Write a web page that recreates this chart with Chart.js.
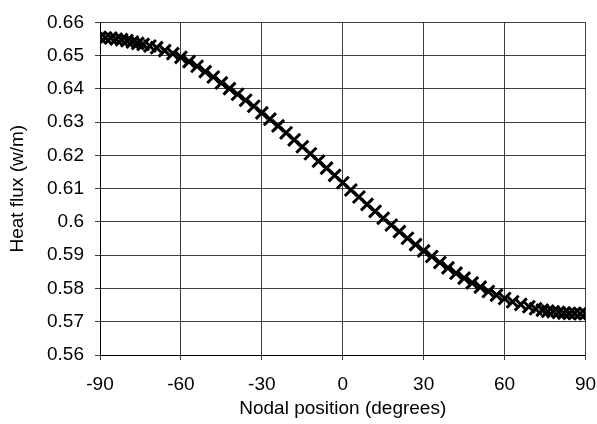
<!DOCTYPE html>
<html>
<head>
<meta charset="utf-8">
<script src="https://cdn.jsdelivr.net/npm/chart.js@4/dist/chart.umd.min.js"></script>
<style>
  body { margin: 0; background: #fff; }
</style>
</head>
<body>
<canvas id="fluxchart" width="597" height="424"></canvas>
<script>
// nodal positions (degrees) and heat flux (w/m)
const nodalPositions = [
    -90, -88, -86, -84, -82, -80, -78, -76, -74, -71.5, -69, -66,
    -63, -60, -57, -54, -51, -48, -45, -42, -39, -36, -33, -30,
    -27, -24, -21, -18, -15, -12, -9, -6, -3, 0,
    3, 6, 9, 12, 15, 18, 21, 24, 27, 30, 33, 36, 39, 42, 45,
    48, 51, 54, 57, 60, 63, 66, 69, 71.5, 74, 76, 78, 80, 82, 84, 86, 88, 90
];
const heatFlux = [
    0.6555, 0.6554, 0.6553, 0.6550, 0.6548, 0.6545, 0.6541, 0.6537, 0.6534, 0.6529, 0.6524, 0.6515,
    0.6506, 0.6495, 0.6482, 0.6468, 0.6452, 0.6436, 0.6418, 0.6401, 0.6384, 0.6366, 0.6348, 0.6328,
    0.6309, 0.6289, 0.6268, 0.6247, 0.6226, 0.6205, 0.6183, 0.6162, 0.6140, 0.6118,
    0.6096, 0.6075, 0.6053, 0.6032, 0.6011, 0.5991, 0.5971, 0.5951, 0.5932, 0.5913, 0.5896, 0.5878, 0.5862, 0.5846, 0.5831,
    0.5817, 0.5804, 0.5791, 0.5780, 0.5770, 0.5760, 0.5752, 0.5745, 0.5739, 0.5735, 0.5732, 0.5730, 0.5728, 0.5726, 0.5725, 0.5725, 0.5724, 0.5724
];
const xTickLabels = ['-90', '-60', '-30', '0', '30', '60', '90'];
const yTickLabels = ['0.56', '0.57', '0.58', '0.59', '0.6', '0.61', '0.62', '0.63', '0.64', '0.65', '0.66'];

Chart.defaults.font.family = "'Liberation Sans', Arial, sans-serif";
Chart.defaults.font.size = 19;
Chart.defaults.color = '#000';

const gridColor = 'rgba(0,0,0,0.75)';

const ctx = document.getElementById('fluxchart').getContext('2d');
const fluxchart = new Chart(ctx, {
    type: 'scatter',
    data: {
        datasets: [{
            label: 'Heat flux',
            data: nodalPositions.map((x, i) => ({ x: x, y: heatFlux[i] })),
            pointStyle: 'crossRot',
            pointRadius: 8.5,
            pointHoverRadius: 8.5,
            borderColor: '#000',
            backgroundColor: '#000',
            pointBorderWidth: 3,
            showLine: false
        }]
    },
    options: {
        responsive: false,
        animation: false,
        layout: { padding: { left: 0, right: 9, top: 20, bottom: 0 } },
        plugins: {
            legend: { display: false },
            tooltip: { enabled: false }
        },
        scales: {
            x: {
                type: 'linear',
                min: -90,
                max: 90,
                afterFit: (scale) => {
                    scale.height = 69;
                    scale.paddingLeft = 0;
                    scale.paddingRight = 0;
                },
                afterBuildTicks: (scale) => {
                    scale.ticks = xTickLabels.map(t => ({ value: Number(t) }));
                },
                ticks: {
                    padding: 13,
                    maxRotation: 0,
                    autoSkip: false,
                    callback: (value, index) => xTickLabels[index]
                },
                grid: { color: gridColor, tickLength: 5, lineWidth: 1 },
                border: { color: '#000' },
                title: {
                    display: true,
                    text: 'Nodal position (degrees)',
                    padding: { top: 0, bottom: 4 }
                }
            },
            y: {
                min: 0.56,
                max: 0.66,
                afterFit: (scale) => {
                    scale.width = 100;
                },
                afterBuildTicks: (scale) => {
                    scale.ticks = yTickLabels.map(t => ({ value: Number(t) }));
                },
                ticks: {
                    padding: 11,
                    autoSkip: false,
                    callback: (value, index) => yTickLabels[index]
                },
                grid: { color: gridColor, tickLength: 5, lineWidth: 1 },
                border: { color: '#000' },
                title: {
                    display: true,
                    text: 'Heat flux (w/m)',
                    padding: { top: 6, bottom: 0 }
                }
            }
        }
    }
});
</script>
</body>
</html>
